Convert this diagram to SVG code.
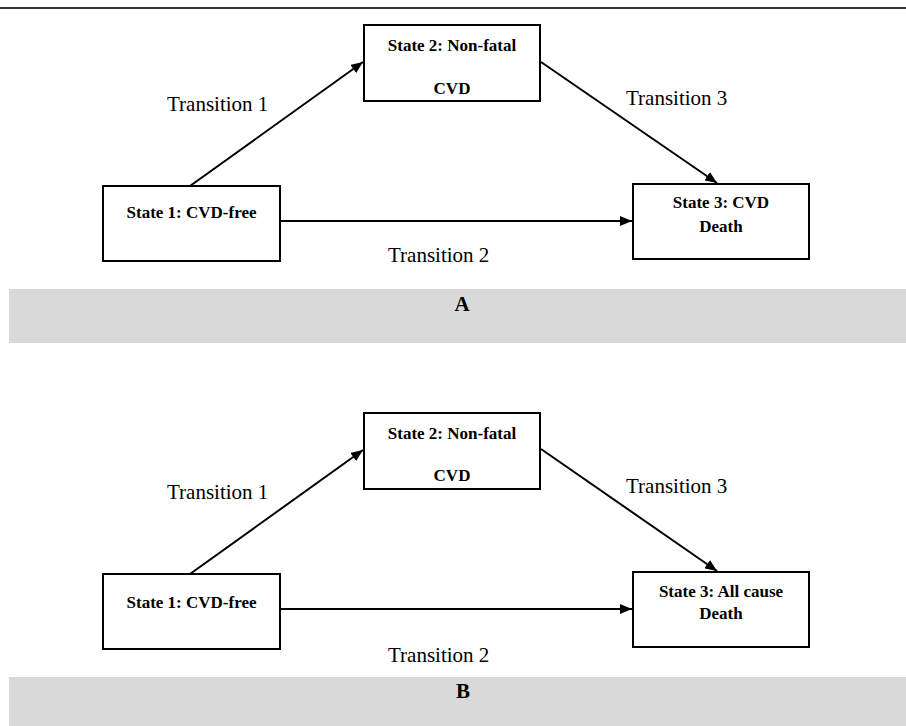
<svg xmlns="http://www.w3.org/2000/svg" width="906" height="726" viewBox="0 0 906 726">
<style>
.box{fill:#fff;stroke:#000;stroke-width:2}
.bt{font-family:"Liberation Serif","Times New Roman",serif;font-weight:bold;font-size:17px;text-anchor:middle;fill:#000}
.lt{font-family:"Liberation Serif","Times New Roman",serif;font-size:21px;fill:#000}
.band{fill:#d9d9d9}
.cn{stroke:#000;stroke-width:2;fill:none;marker-end:url(#ah)}
</style>
<defs>
<marker id="ah" markerWidth="12" markerHeight="10" refX="12" refY="5" orient="auto" markerUnits="userSpaceOnUse">
<path d="M0,0 L12,5 L0,10 Z" fill="#000"/>
</marker>
</defs>
<line x1="0" y1="8" x2="906" y2="8" stroke="#333" stroke-width="2"/>
<rect class="band" x="9" y="289" width="897" height="54"/>
<rect class="band" x="9" y="677" width="897" height="49"/>
<text class="bt" x="462" y="311" style="font-size:21px">A</text>
<text class="bt" x="463" y="698" style="font-size:21px">B</text>
<g id="connectors">
<line class="cn" x1="190" y1="186" x2="363" y2="62"/>
<line class="cn" x1="280" y1="221" x2="632" y2="221"/>
<line class="cn" x1="541" y1="62" x2="717" y2="183"/>
<line class="cn" x1="190" y1="574" x2="363" y2="450"/>
<line class="cn" x1="280" y1="609" x2="632" y2="609"/>
<line class="cn" x1="541" y1="449" x2="717" y2="571"/>
<text class="lt" x="167" y="111">Transition 1</text>
<text class="lt" x="388" y="262">Transition 2</text>
<text class="lt" x="626" y="105">Transition 3</text>
<text class="lt" x="167" y="499">Transition 1</text>
<text class="lt" x="388" y="662">Transition 2</text>
<text class="lt" x="626" y="493">Transition 3</text>
</g>
<g id="a-state1">
<rect class="box" x="103" y="186" width="177" height="75"/>
<text class="bt" x="191.5" y="218">State 1: CVD-free</text>
</g>
<g id="a-state2">
<rect class="box" x="364" y="25" width="176" height="76"/>
<text class="bt" x="452" y="51">State 2: Non-fatal</text>
<text class="bt" x="452" y="94">CVD</text>
</g>
<g id="a-state3">
<rect class="box" x="633" y="184" width="176" height="75"/>
<text class="bt" x="721" y="208">State 3: CVD</text>
<text class="bt" x="721" y="232">Death</text>
</g>
<g id="b-state1">
<rect class="box" x="103" y="574" width="177" height="75"/>
<text class="bt" x="191.5" y="608">State 1: CVD-free</text>
</g>
<g id="b-state2">
<rect class="box" x="364" y="413" width="176" height="76"/>
<text class="bt" x="452" y="439">State 2: Non-fatal</text>
<text class="bt" x="452" y="481">CVD</text>
</g>
<g id="b-state3">
<rect class="box" x="633" y="572" width="176" height="75"/>
<text class="bt" x="721" y="597">State 3: All cause</text>
<text class="bt" x="721" y="619">Death</text>
</g>
</svg>
